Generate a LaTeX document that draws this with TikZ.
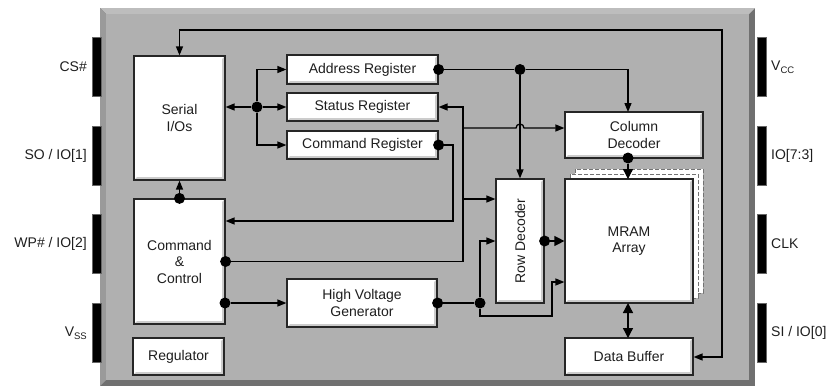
\documentclass[tikz,border=0pt]{standalone}
\usepackage{fontspec}
\setmainfont{Liberation Sans}
\usetikzlibrary{arrows.meta}
\definecolor{boardin}{HTML}{B0B0B0}
\definecolor{boardtop}{HTML}{BDBDBD}
\definecolor{boardleft}{HTML}{9A9A9A}
\definecolor{boarddark}{HTML}{707070}
\definecolor{txt}{HTML}{1E1E1E}
\newcommand\lbl{\fontsize{14}{16.5}\selectfont}
\newcommand\subl[1]{\raisebox{-2.5pt}{\fontsize{9.5}{10}\selectfont #1}}
\begin{document}
\begin{tikzpicture}[x=1pt,y=-1pt,
  blk/.style={draw=black!85, line width=1.2pt, fill=white, inner sep=0pt, align=center,
    font=\lbl, text=txt,
    path picture={\fill[black!20] (path picture bounding box.north east) -- (path picture bounding box.south east) -- (path picture bounding box.south west) -- ([shift={(3pt,3pt)}]path picture bounding box.south west) -- ([shift={(-3pt,3pt)}]path picture bounding box.south east) -- ([shift={(-3pt,-3pt)}]path picture bounding box.north east) -- cycle;}},
  copybox/.style={draw=black!55, dashed, dash pattern=on 4pt off 2pt, line width=0.9pt, fill=white},
  pin/.style={fill=black, draw=black!60, line width=0.4pt},
  pinlbl/.style={font=\lbl, text=txt, inner sep=0pt},
  wire/.style={line width=1.3pt, draw=black},
  arr/.style={wire, -{Triangle[length=9pt,width=7pt]}},
  barr/.style={wire, -{Triangle[length=10pt,width=10pt]}},
  darr/.style={wire, {Triangle[length=10pt,width=10pt]}-{Triangle[length=10pt,width=10pt]}},
  busarr/.style={wire, {Triangle[length=9pt,width=7pt]}-{Triangle[length=9pt,width=7pt]}},
  dot/.style={circle, fill=black, inner sep=0pt, minimum size=11pt}
]
\useasboundingbox (0,0) rectangle (828,388);
% board
\fill[boarddark] (100,8) rectangle (755,386);
\fill[boardtop] (100,8) -- (755,8) -- (749,14) -- (106,14) -- cycle;
\fill[boardleft] (100,8) -- (106,14) -- (106,380) -- (100,386) -- cycle;
\fill[boardin] (106,14) rectangle (749,380);
% pins left
\foreach \ya/\yb in {37/96,126/185,214/273,303/362}{
  \filldraw[pin] (92,\ya) rectangle (101,\yb);
  \filldraw[pin] (757,\ya) rectangle (766,\yb);
}
\node[pinlbl, anchor=east] (pcs) at (87,67) {CS\#};
\node[pinlbl, anchor=east] (pso) at (87,156) {SO / IO[1]};
\node[pinlbl, anchor=east] (pwp) at (87,244) {WP\# / IO[2]};
\node[pinlbl, anchor=east] (pvss) at (87,333) {V\subl{SS}};
\node[pinlbl, anchor=west] (pvcc) at (771,67) {V\subl{CC}};
\node[pinlbl, anchor=west] (pio) at (771,156) {IO[7:3]};
\node[pinlbl, anchor=west] (pclk) at (771,244) {CLK};
\node[pinlbl, anchor=west] (psi) at (771,333) {SI / IO[0]};
% MRAM copies
\draw[copybox] (575,169) rectangle (703,293);
\draw[copybox] (570,174) rectangle (698,298);
% blocks
\node[blk, minimum width=91, minimum height=124] (sio) at (179.5,118) {Serial\\I/Os};
\node[blk, minimum width=91, minimum height=125] (cc) at (179.5,261.5) {Command\\\&\\Control};
\node[blk, minimum width=91, minimum height=37] (reg) at (178.5,356.5) {Regulator};
\node[blk, minimum width=151, minimum height=29] (addr) at (362.5,69.5) {Address Register};
\node[blk, minimum width=151, minimum height=28] (stat) at (362.5,107) {Status Register};
\node[blk, minimum width=151, minimum height=28] (cmdr) at (362.5,145) {Command Register};
\node[blk, minimum width=150, minimum height=48] (hvg) at (362,303) {High Voltage\\Generator};
\node[blk, minimum width=48, minimum height=124] (rowd) at (520,241) {};
\node[rotate=90, font=\lbl, text=txt] (rowdt) at (rowd.center) {Row Decoder};
\node[blk, minimum width=138, minimum height=46] (cold) at (634,135) {Column\\Decoder};
\node[blk, minimum width=128, minimum height=124] (mram) at (629,241) {MRAM\\Array};
\node[blk, minimum width=128, minimum height=37] (dbuf) at (629,356.5) {Data Buffer};
% coordinates
\coordinate (b1) at (179.5,30);
\coordinate (b2) at (722,30);
\coordinate (b3) at (722,357);
\coordinate (v1) at (463,261.5);
\coordinate (h1) at (463,128);
\coordinate (h2) at (463,199);
\coordinate (c1) at (453,221);
\coordinate (l1) at (480,316);
\coordinate (l2) at (552,282);
\coordinate (ct) at (628,112);
\coordinate (cb) at (628,158);
% dots
\node[dot] (j1) at (257,107) {};
\node[dot] (da) at (addr.east) {};
\node[dot] (j2) at (520,69.5) {};
\node[dot] (dc) at (cmdr.east) {};
\node[dot] (dcc1) at (cc.north) {};
\node[dot] (dcc2) at (cc.east) {};
\node[dot] (dcc3) at (225,303) {};
\node[dot] (dh) at (hvg.east) {};
\node[dot] (j3) at (480,303) {};
\node[dot] (dr) at (rowd.east) {};
\node[dot] (dcd) at (cb) {};
% wires
\draw[busarr] (sio.north) -- (b1) -- (b2) -- (b3) -- (dbuf.east |- b3);
\draw[arr] (j1) -- (sio.east |- j1);
\draw[arr] (j1) -- (stat.west);
\draw[arr] (j1) |- (addr.west);
\draw[arr] (j1) |- (cmdr.west);
\draw[wire] (da) -- (j2);
\draw[arr] (j2) -| (ct);
\draw[arr] (j2) -- (rowd.north);
\draw[arr] (dcc2) -- (v1) |- (stat.east);
\draw[arr] (h1) -- (516,128) arc[start angle=180, end angle=0, radius=4pt] -- (cold.west |- h1);
\draw[arr] (h2) -- (rowd.west |- h2);
\draw[arr] (dc) -| (c1) -- (cc.east |- c1);
\draw[arr] (dcc1) -- (sio.south);
\draw[arr] (dcc3) -- (hvg.west);
\draw[wire] (dh) -- (j3);
\draw[arr] (j3) |- (rowd.west);
\draw[arr] (j3) -- (l1) -| (l2) -- (mram.west |- l2);
\draw[barr] (dr) -- (mram.west |- dr);
\draw[barr] (dcd) -- (628,179);
\draw[darr] (628,303) -- (628,338);
\end{tikzpicture}
\end{document}
